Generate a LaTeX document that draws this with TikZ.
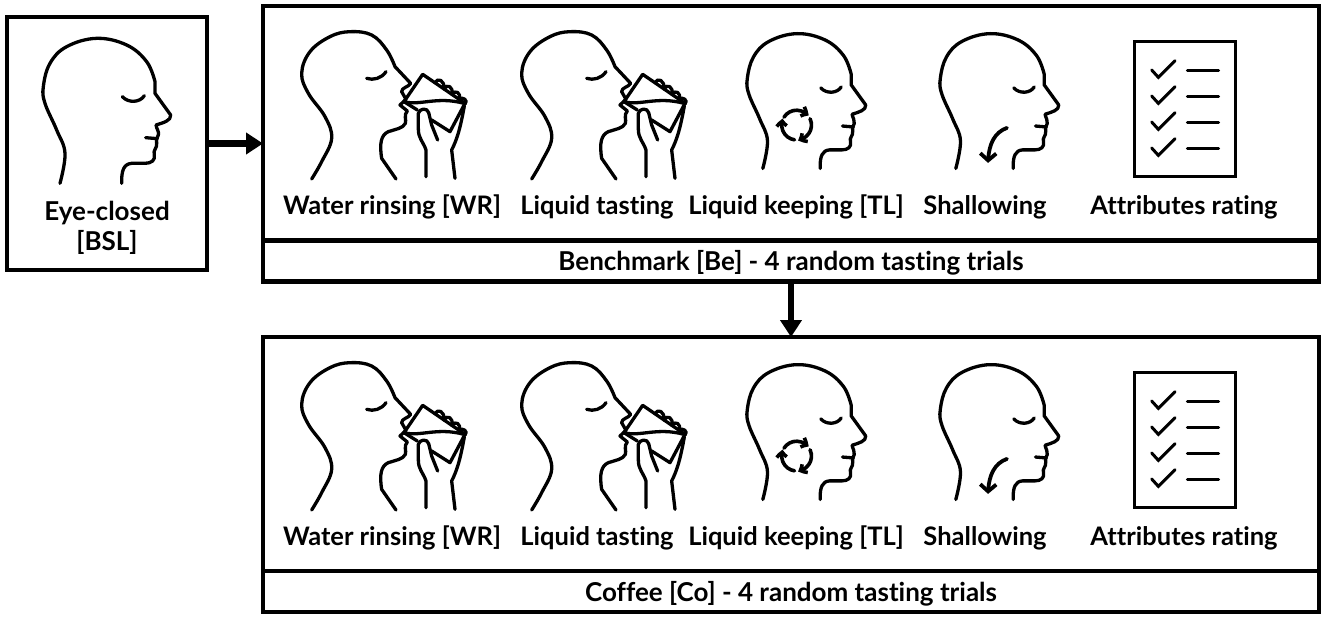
\documentclass[tikz,border=0pt]{standalone}
\usepackage{fontspec}
\setmainfont[Ligatures=NoCommon]{Lato}
\usepackage{xcolor}
\usepackage{tikz}
\usetikzlibrary{
  arrows.meta,
  bending,
  positioning
}
\tikzset{
  framebox/.style={draw, line width=4.2pt, inner sep=0pt, outer sep=0pt},
  panelbox/.style={framebox, minimum width=1056pt},
  stepname/.style={font=\fontsize{25.5}{30}\selectfont\bfseries, inner sep=0pt, anchor=center, align=center, yshift=-2pt},
  trialname/.style={stepname, font=\fontsize{26}{30}\selectfont\bfseries},
  flowarrow/.style={-{Triangle[length=17pt, width=21pt]}, line width=6.5pt},
  headline/.style={line width=3.3pt, line cap=round, line join=round},
  listline/.style={line width=3pt, line cap=round, line join=miter},
  turnarrow/.style={line width=3.6pt, -{Straight Barb[bend, length=5pt, width=10pt]}},
  resthead/.pic={
    \begin{scope}[scale=1/3, headline]
      \draw plot[smooth, tension=.65] coordinates {(180,550) (195,460) (170,390) (135,310) (130,260) (150,190) (200,140) (290,115) (380,135) (440,185) (465,245)}
        -- (465,280) -- (512,345)
        .. controls (514,362) and (490,368) .. (468,375)
        .. controls (470,388) and (478,395) .. (475,405)
        .. controls (473,412) and (468,416) .. (470,430)
        .. controls (472,445) and (458,450) .. (463,465)
        .. controls (466,480) and (455,490) .. (435,490)
        -- (395,490)
        .. controls (372,492) and (364,510) .. (365,550);
      \draw (437,413) -- (472,416);
      \draw (367,290) .. controls (385,310) and (420,308) .. (433,287);
    \end{scope}
  },
  drinkhead/.pic={
    \begin{scope}[scale=1/3, headline]
      \draw plot[smooth, tension=.65] coordinates {(95,447) (125,395) (155,325) (135,260) (85,190) (65,130) (90,65) (150,20) (210,5) (275,15) (320,60) (345,110)}
        -- (392,160)
        .. controls (385,172) and (365,172) .. (365,185)
        -- (378,208) -- (360,225) -- (382,243)
        .. controls (370,255) and (380,270) .. (376,280)
        .. controls (370,295) and (345,298) .. (325,305)
        .. controls (303,315) and (298,340) .. (305,385)
        -- (348,447);
      \draw (260,145) .. controls (280,152) and (305,145) .. (318,125);
      \draw (372,215) -- (428,133) -- (555,220) -- (510,305) -- (455,270);
      \draw (372,215) -- (412,240);
      \draw (372,215) .. controls (420,228) and (470,198) .. (552,220);
      \draw (465,158) .. controls (472,142) and (495,150) .. (492,177)
        .. controls (500,160) and (522,170) .. (515,193)
        .. controls (525,178) and (545,188) .. (537,208)
        .. controls (548,198) and (566,212) .. (555,222);
      \draw (438,440) -- (438,360) .. controls (430,335) and (414,325) .. (415,295)
        -- (415,250) .. controls (418,235) and (442,232) .. (446,248)
        -- (455,285) -- (473,330);
      \draw (525,445) -- (515,360) .. controls (530,330) and (540,300) .. (553,228);
    \end{scope}
  },
  cheekturn/.pic={
    \begin{scope}[scale=1/3, headline]
      \coordinate (turn) at (289,410);
      \draw[turnarrow] ([shift=(-148:48)]turn) arc[start angle=-148, end angle=-38, radius=48];
      \draw[turnarrow] ([shift=(-25:48)]turn) arc[start angle=-25, end angle=85, radius=48];
      \draw[turnarrow] ([shift=(98:48)]turn) arc[start angle=98, end angle=205, radius=48];
    \end{scope}
  },
  throatdown/.pic={
    \begin{scope}[scale=1/3, headline]
      \draw[line width=3.8pt, -{Straight Barb[length=7pt, width=16pt]}] (345,419) .. controls (300,435) and (285,480) .. (284,532);
    \end{scope}
  },
  ratinglist/.pic={
    \begin{scope}[scale=1/3]
      \draw[listline] (72,35) rectangle (377,440);
      \foreach \rowy in {0,78,156,234} {
        \draw[listline] (125,120+\rowy) -- (145,142+\rowy) -- (195,92+\rowy);
        \draw[listline] (232,122+\rowy) -- (326,122+\rowy);
      }
    \end{scope}
  }
}
\begin{document}
\begin{tikzpicture}[x=1pt, y=-1pt]
  \useasboundingbox (0,0) rectangle (1325,618);
  \node[framebox, minimum width=200pt, minimum height=253pt] (bsl) at (107,143.5) {};
  \node[panelbox, minimum height=234.5pt] (benchtop) at (791,123.25) {};
  \node[panelbox, minimum height=41pt, below=0pt of benchtop] (benchbar) {};
  \node[panelbox, minimum height=234pt] (coffeetop) at (791,454) {};
  \node[panelbox, minimum height=41pt, below=0pt of coffeetop] (coffeebar) {};

  \draw[flowarrow] (bsl.east) -- (bsl.east -| benchtop.west);
  \draw[flowarrow] (benchbar.south) -- (coffeetop.north);

  \pic at (0,0) {resthead};
  \node[trialname] (bslname) at (107,226) {Eye-closed\\{[BSL]}};

  \pic at (280,30) {drinkhead};
  \pic at (500,30) {drinkhead};
  \pic[scale=.93] at (707,-2) {resthead};
  \pic[scale=.93] at (707,-2) {cheekturn};
  \pic[scale=.93] at (900,-2) {resthead};
  \pic[scale=.93] at (900,-2) {throatdown};
  \pic at (1110,30) {ratinglist};
  \node[stepname] (benchwr) at (392,205) {Water rinsing [WR]};
  \node[stepname] (benchlt) at (597,205) {Liquid tasting};
  \node[stepname] (benchtl) at (796,205) {Liquid keeping [TL]};
  \node[stepname] (benchsw) at (985,205) {Shallowing};
  \node[stepname] (benchar) at (1184,205) {Attributes rating};
  \node[trialname] (benchtxt) at (benchbar) {Benchmark [Be] - 4 random tasting trials};

  \pic at (280,361) {drinkhead};
  \pic at (500,361) {drinkhead};
  \pic[scale=.93] at (707,329) {resthead};
  \pic[scale=.93] at (707,329) {cheekturn};
  \pic[scale=.93] at (900,329) {resthead};
  \pic[scale=.93] at (900,329) {throatdown};
  \pic at (1110,361) {ratinglist};
  \node[stepname] (coffeewr) at (392,536) {Water rinsing [WR]};
  \node[stepname] (coffeelt) at (597,536) {Liquid tasting};
  \node[stepname] (coffeetl) at (796,536) {Liquid keeping [TL]};
  \node[stepname] (coffeesw) at (985,536) {Shallowing};
  \node[stepname] (coffeear) at (1184,536) {Attributes rating};
  \node[trialname] (coffeetxt) at (coffeebar) {Coffee [Co] - 4 random tasting trials};
\end{tikzpicture}
\end{document}
